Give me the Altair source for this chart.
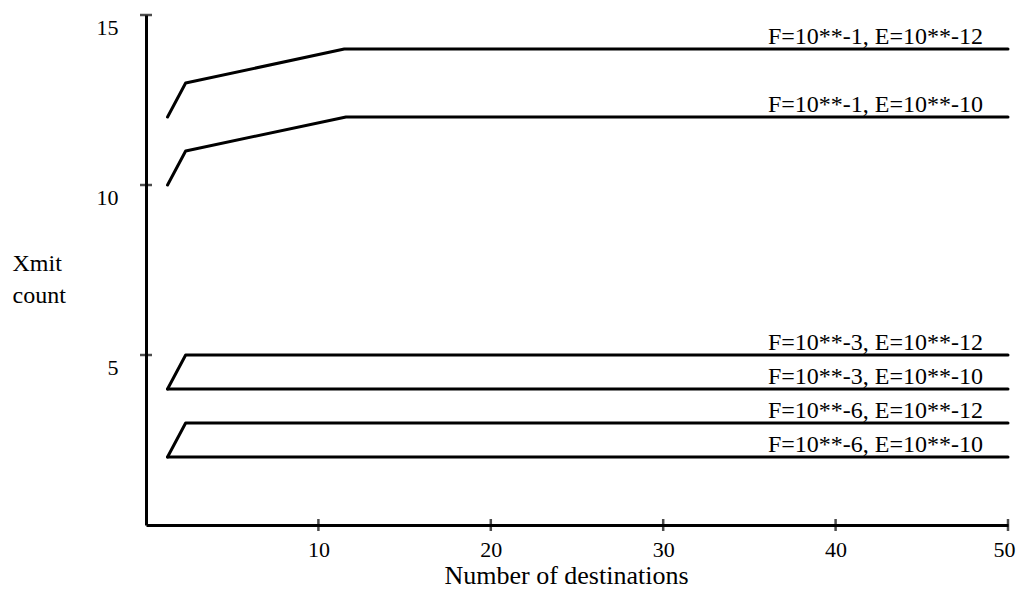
import altair as alt
import pandas as pd

# Series (label, x points, y points)
labels = [
    "F=10**-1, E=10**-12",
    "F=10**-1, E=10**-10",
    "F=10**-3, E=10**-12",
    "F=10**-3, E=10**-10",
    "F=10**-6, E=10**-12",
    "F=10**-6, E=10**-10",
]
xs = [
    [1.25, 2.3, 11.5, 50],
    [1.25, 2.3, 11.6, 50],
    [1.25, 2.3, 50],
    [1.25, 50],
    [1.25, 2.3, 50],
    [1.25, 50],
]
ys = [
    [12, 13, 14, 14],
    [10, 11, 12, 12],
    [4, 5, 5],
    [4, 4],
    [2, 3, 3],
    [2, 2],
]
x_ticks = [10, 20, 30, 40, 50]
y_ticks = [5, 10, 15]

rows = []
for lab, xv, yv in zip(labels, xs, ys):
    for i, (a, b) in enumerate(zip(xv, yv)):
        rows.append({"series": lab, "x": a, "y": b, "i": i})
df = pd.DataFrame(rows)
lab_df = pd.DataFrame({"series": labels, "x": [v[-1] for v in xs], "y": [v[-1] for v in ys]})
xt_df = pd.DataFrame({"x": x_ticks, "y": [0] * len(x_ticks)})
yt_df = pd.DataFrame({"y": y_ticks, "x": [0] * len(y_ticks)})

FONT = "Liberation Serif"

xscale = alt.Scale(domain=[0, 50], nice=False, zero=True)
yscale = alt.Scale(domain=[0, 15], nice=False)

xaxis = alt.Axis(
    values=x_ticks, ticks=False, grid=False, domainColor="black", domainWidth=3,
    labelFont=FONT, labelFontSize=22, labelColor="black", labelPadding=14,
    labelFlush=True, labelFlushOffset=7,
    title="Number of destinations", titleFont=FONT, titleFontSize=26,
    titleFontWeight="normal", titleColor="black",
    titleX=420, titleY=58, titleBaseline="alphabetic",
)
yaxis = alt.Axis(
    values=y_ticks, ticks=False, grid=False, domainColor="black", domainWidth=3,
    labelFont=FONT, labelFontSize=22, labelColor="black", labelPadding=28,
    labelBaseline="middle", labelOffset=12, labelFlush=False,
    title=["Xmit", "count"], titleFont=FONT, titleFontSize=24,
    titleFontWeight="normal", titleColor="black", titleAngle=0,
    titleAlign="left", titleBaseline="alphabetic", titleLineHeight=32,
    titleX=-134, titleY=255,
)

lines = alt.Chart(df).mark_line(color="black", strokeWidth=3, strokeCap="round", strokeJoin="round").encode(
    x=alt.X("x:Q", scale=xscale, axis=xaxis),
    y=alt.Y("y:Q", scale=yscale, axis=yaxis),
    detail="series:N",
    order="i:Q",
)

texts = alt.Chart(lab_df).mark_text(
    font=FONT, fontSize=24, color="black", align="right", baseline="alphabetic", dx=-25, dy=-5
).encode(
    x=alt.X("x:Q", scale=xscale),
    y=alt.Y("y:Q", scale=yscale),
    text="series:N",
)

xticks = alt.Chart(xt_df).mark_tick(orient="vertical", size=12, thickness=2.5, color="black").encode(
    x=alt.X("x:Q", scale=xscale), y=alt.Y("y:Q", scale=yscale)
)
yticks = alt.Chart(yt_df).mark_tick(orient="horizontal", size=12, thickness=2.5, color="black").encode(
    x=alt.X("x:Q", scale=xscale), y=alt.Y("y:Q", scale=yscale)
)

chart = alt.layer(lines, texts, xticks, yticks).properties(
    width=862, height=510,
    autosize=alt.AutoSizeParams(type="none"),
    padding={"left": 138, "top": 7, "right": 9, "bottom": 65},
    background="white",
).configure_view(strokeWidth=0)

chart.save("out.html", embed_options={"renderer": "svg", "actions": False})
